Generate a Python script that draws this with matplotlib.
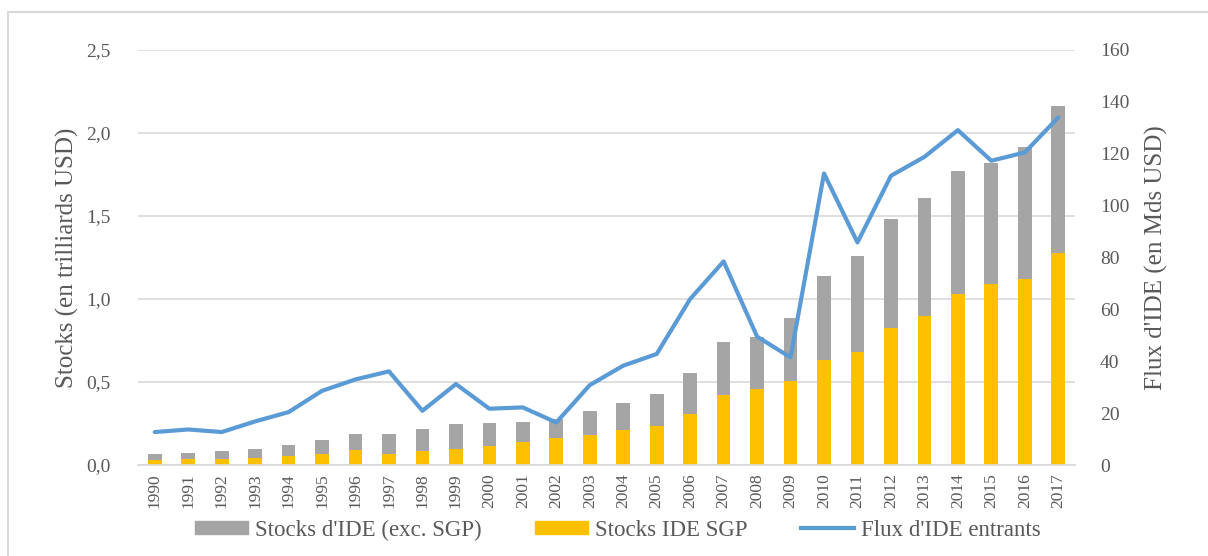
import matplotlib
matplotlib.use("Agg")
import matplotlib.pyplot as plt
import numpy as np
from matplotlib.lines import Line2D

years = list(range(1990, 2018))
# stock totals (trillion USD) and Singapore share
stock_total = [0.065, 0.07, 0.084, 0.098, 0.12, 0.148, 0.189, 0.189, 0.217, 0.245,
               0.253, 0.261, 0.277, 0.324, 0.373, 0.428, 0.556, 0.739, 0.773, 0.887,
               1.14, 1.26, 1.48, 1.61, 1.77, 1.817, 1.916, 2.163]
stock_sgp = [0.028, 0.036, 0.036, 0.042, 0.056, 0.064, 0.092, 0.068, 0.084, 0.098,
             0.112, 0.14, 0.16, 0.183, 0.213, 0.233, 0.309, 0.424, 0.456, 0.508,
             0.634, 0.683, 0.824, 0.895, 1.028, 1.092, 1.12, 1.28]
# inward FDI flows (bn USD)
flux = [12.7, 13.7, 12.7, 16.8, 20.4, 28.6, 33.0, 36.1, 20.9, 31.2,
        21.7, 22.2, 16.4, 30.8, 38.3, 42.8, 64.0, 78.5, 49.5, 41.5,
        112.4, 85.8, 111.5, 118.8, 129.1, 117.3, 120.5, 134.0]

stock_excl = [t - s for t, s in zip(stock_total, stock_sgp)]

grey = "#A5A5A5"
yellow = "#FFC000"
blue = "#5B9BD5"
txt = "#595959"

plt.rcParams['font.family'] = ['Liberation Serif', 'DejaVu Serif']

fig = plt.figure(figsize=(12.08, 5.56), dpi=100)
ax = fig.add_axes([138 / 1208, 1 - 465 / 556, 937 / 1208, 415 / 556])
x = np.arange(len(years))
w = 0.41
ax.bar(x, stock_sgp, w, color=yellow, zorder=2)
ax.bar(x, stock_excl, w, bottom=stock_sgp, color=grey, zorder=2)

ax.set_xlim(-0.5, len(years) - 0.5)
ax.set_ylim(0, 2.5)
ax.set_yticks(np.arange(0, 2.51, 0.5))
ax.set_yticklabels([f"{v:.1f}".replace(".", ",") for v in np.arange(0, 2.51, 0.5)])
ax.set_xticks(x)
ax.set_xticklabels([str(y) for y in years], rotation=90)
ax.grid(axis="y", color="#D9D9D9", linewidth=1.2, zorder=0)
for s in ["top", "right", "left"]:
    ax.spines[s].set_visible(False)
ax.spines["bottom"].set_color("#D9D9D9")
ax.spines["bottom"].set_linewidth(1.2)
ax.tick_params(axis="y", length=0, pad=20, labelsize=14, labelcolor=txt)
ax.tick_params(axis="x", length=0, pad=6, labelsize=12.5, labelcolor=txt)
ax.set_ylabel("Stocks (en trilliards USD)", fontsize=18, color=txt, labelpad=5)

ax2 = ax.twinx()
ax2.plot(x, flux, color=blue, linewidth=3, zorder=3, solid_capstyle="round")
ax2.set_ylim(0, 160)
ax2.set_yticks(range(0, 161, 20))
for s in ax2.spines.values():
    s.set_visible(False)
ax2.tick_params(axis="y", length=0, pad=18, labelsize=14, labelcolor=txt)
ax2.set_ylabel("Flux d'IDE (en Mds USD)", fontsize=18, color=txt, labelpad=11)

handles = [plt.Rectangle((0, 0), 1, 1, color=grey),
           plt.Rectangle((0, 0), 1, 1, color=yellow),
           Line2D([0], [0], color=blue, linewidth=3)]
labels = ["Stocks d'IDE (exc. SGP)", "Stocks IDE SGP", "Flux d'IDE entrants"]
leg = fig.legend(handles, labels, loc="center", bbox_to_anchor=(618 / 1208, 1 - 530 / 556),
                 ncol=3, frameon=False, fontsize=16.5, handlelength=2.3, handleheight=0.45,
                 handletextpad=0.3, columnspacing=2.35)
for t in leg.get_texts():
    t.set_color(txt)

# outer frame (cropped on right/bottom)
fig.add_artist(Line2D([8 / 1208, 8 / 1208], [0, 1 - 12 / 556], color="#D9D9D9", linewidth=1.5))
fig.add_artist(Line2D([8 / 1208, 1], [1 - 12 / 556, 1 - 12 / 556], color="#D9D9D9", linewidth=1.5))

fig.savefig("out.png", dpi=100)
